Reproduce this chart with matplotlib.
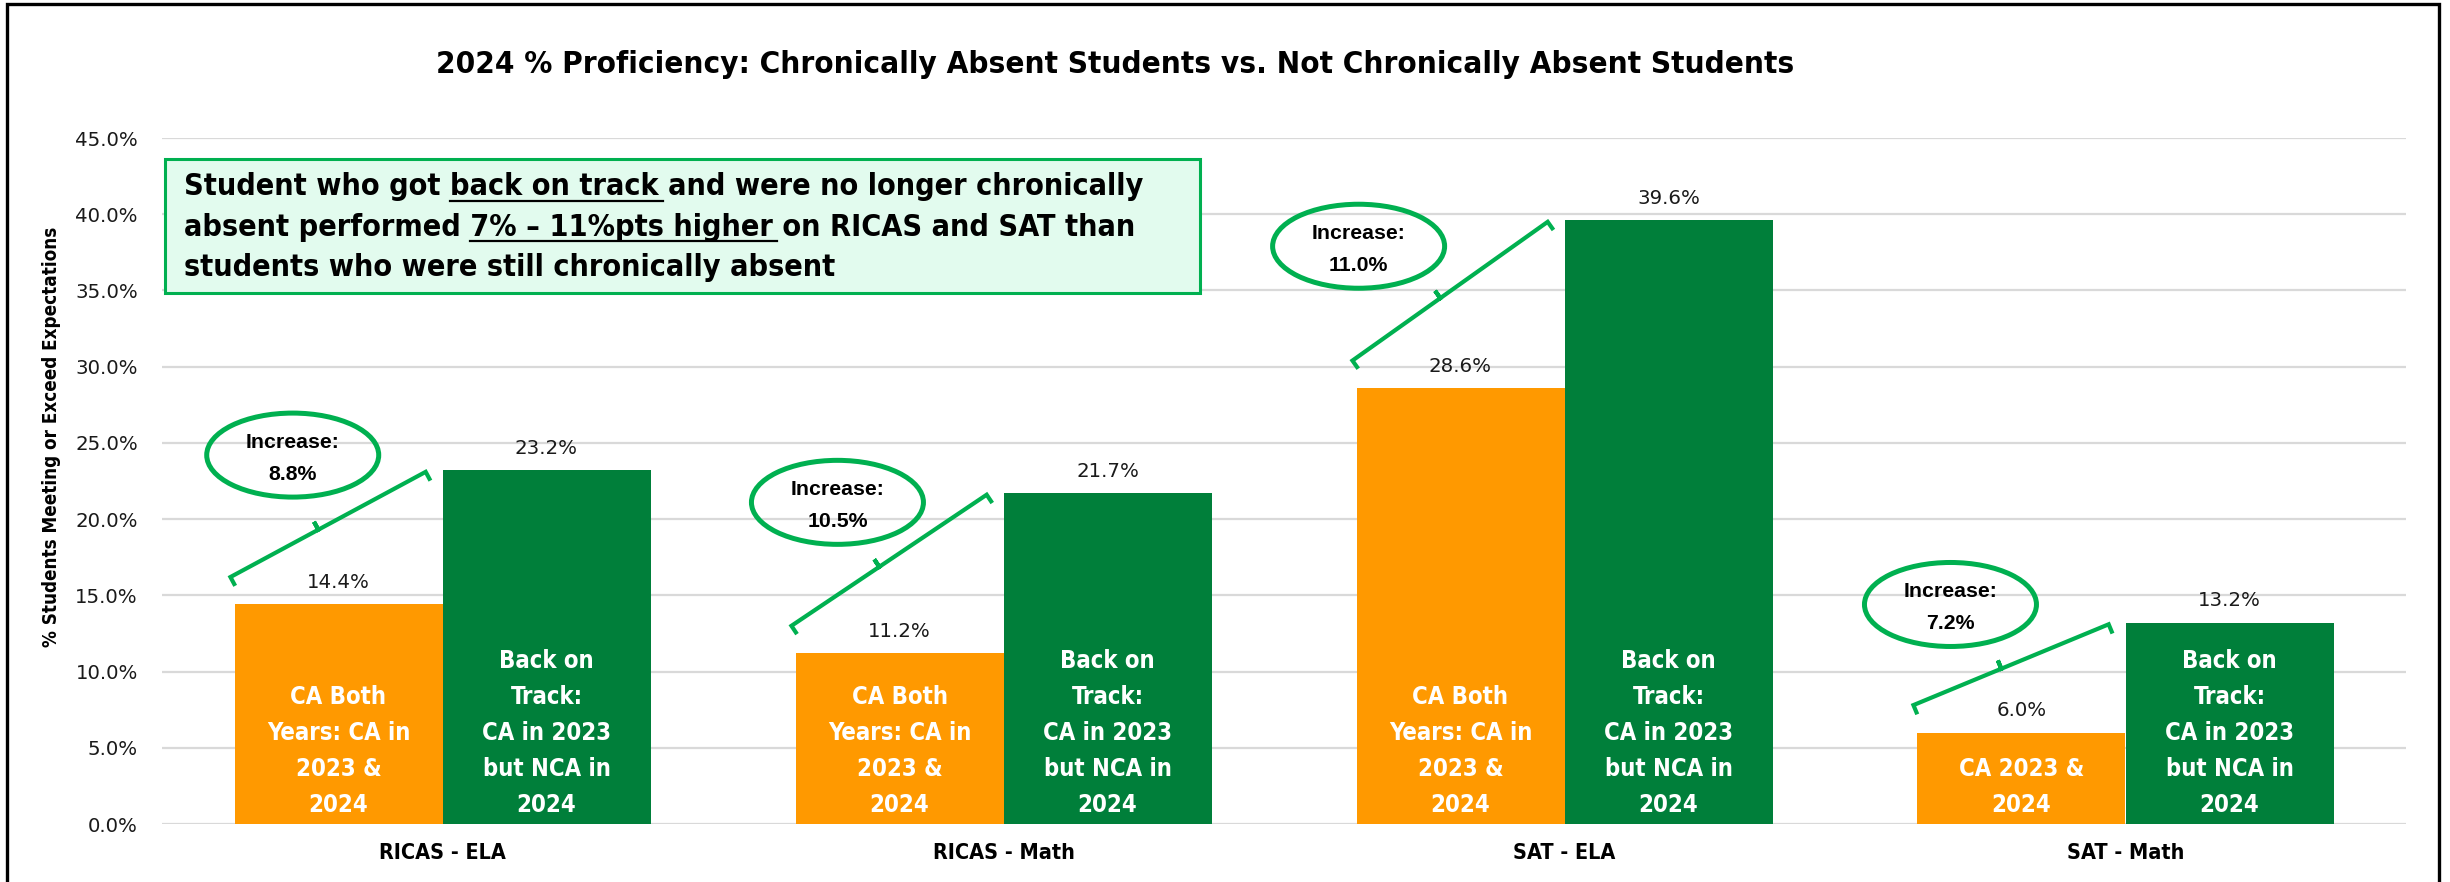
import matplotlib
matplotlib.use("Agg")
import matplotlib.pyplot as plt
from matplotlib import font_manager as fm
from matplotlib.font_manager import FontProperties
from matplotlib.patches import Ellipse, Rectangle
from matplotlib.lines import Line2D
import numpy as np

# ---------------- data ----------------
categories = ["RICAS - ELA", "RICAS - Math", "SAT - ELA", "SAT - Math"]
ca_both_years = [14.4, 11.2, 28.6, 6.0]
back_on_track = [23.2, 21.7, 39.6, 13.2]
ca_bar_text = ["CA Both\nYears: CA in\n2023 &\n2024",
               "CA Both\nYears: CA in\n2023 &\n2024",
               "CA Both\nYears: CA in\n2023 &\n2024",
               "CA 2023 &\n2024"]
bot_bar_text = ["Back on\nTrack:\nCA in 2023\nbut NCA in\n2024"] * 4
y_ticks = [0, 5, 10, 15, 20, 25, 30, 35, 40, 45]
title_text = "2024 % Proficiency: Chronically Absent Students vs. Not Chronically Absent Students"
y_label_text = "% Students Meeting or Exceed Expectations"
callout_lines = [
    ("Student who got ", "back on track", " and were no longer chronically"),
    ("absent performed ", "7% \u2013 11%pts higher", " on RICAS and SAT than"),
    ("students who were still chronically absent", "", ""),
]

# ---------------- layout / style ----------------
W, H = 2450, 882
ORANGE = "#FF9900"
GREEN = "#007F3A"
LGREEN = "#00B050"
GRID = "#D9D9D9"
BOX_FC = "#E2FBEE"
REG = "DejaVu Sans"
BOLD = "Liberation Sans"

# find a condensed bold face if one is installed
cond_path = None
prefs = ["LiberationSansNarrow-Bold", "DejaVuSansCondensed-Bold", "RobotoCondensed-Bold",
         "OpenSans_Condensed-Bold", "OpenSansCondensed-Bold", "NotoSans-CondensedBold",
         "Lato-Bold"]
paths = [f.fname for f in fm.fontManager.ttflist]
for p in prefs:
    hit = [q for q in paths if q.split("/")[-1].startswith(p + ".")]
    if hit:
        cond_path = hit[0]
        break

def nb(size):
    if cond_path:
        return FontProperties(fname=cond_path, size=size)
    return FontProperties(family=BOLD, weight="bold", size=size)

def fx(px):
    return px / W

def fy(py):
    return 1 - py / H

fig = plt.figure(figsize=(W / 100, H / 100), dpi=100)
fig.patch.set_facecolor("white")
renderer = fig.canvas.get_renderer()

def text_width(s, fp):
    t = fig.text(0, 0, s, fontproperties=fp)
    bb = t.get_window_extent(renderer=renderer)
    t.remove()
    return bb.width

def fit(s, target, base=20.0):
    return base * target / text_width(s, nb(base))

ax = fig.add_axes([fx(162), 58 / H, (2406 - 162) / W, 686 / H])
x = np.arange(len(categories))
bw = 208 / 561

ax.bar(x - bw / 2, ca_both_years, bw, color=ORANGE, zorder=2)
ax.bar(x + bw / 2, back_on_track, bw, color=GREEN, zorder=2)

ax.set_xlim(-0.5, len(categories) - 0.5)
ax.set_ylim(0, 45)
ax.set_yticks(y_ticks)
ax.set_yticklabels([f"{v:.1f}%" for v in y_ticks], family=REG, fontsize=14.2, color="#1a1a1a")
ax.yaxis.grid(True, color=GRID, lw=1.6, zorder=0)
ax.set_axisbelow(True)
for s in ax.spines.values():
    s.set_visible(False)
ax.tick_params(axis="y", length=0, pad=17.3)

cat_fs = fit("RICAS - ELA", 127)
ax.set_xticks(x)
ax.set_xticklabels(categories, fontproperties=nb(cat_fs), color="black")
ax.tick_params(axis="x", length=0, pad=20.9)
for lab in ax.get_xticklabels():
    lab.set_va("center")

# value labels
for xs, vals in ((x - bw / 2, ca_both_years), (x + bw / 2, back_on_track)):
    for xi, v in zip(xs, vals):
        ax.annotate(f"{v:.1f}%", (xi, v), xytext=(0, 22), textcoords="offset pixels",
                    ha="center", va="center", family=REG, fontsize=14.2, color="#1a1a1a")

# labels inside bars
inner_fs = fit("CA in 2023", 129)
for xs, texts in ((x - bw / 2, ca_bar_text), (x + bw / 2, bot_bar_text)):
    for xi, txt in zip(xs, texts):
        for k, line in enumerate(reversed(txt.split("\n"))):
            ax.annotate(line, (xi, 0), xytext=(0, 19 + 36 * k), textcoords="offset pixels",
                        ha="center", va="center", color="white", fontproperties=nb(inner_fs),
                        zorder=3)

# brackets + increase badges
badge_dx = [-0.267, -0.296, -0.367, -0.312]
badge_dy = [24.2, 21.1, 37.9, 14.4]
px_per_x = (ax.transData.transform((1, 0)) - ax.transData.transform((0, 0)))[0]
px_per_y = (ax.transData.transform((0, 1)) - ax.transData.transform((0, 0)))[1]
inv = ax.transData.inverted()
for i in range(len(categories)):
    p0 = ax.transData.transform((i - 0.378, ca_both_years[i] + 1.8))
    p1 = ax.transData.transform((i - 0.03, back_on_track[i] - 0.1))
    d = (p1 - p0) / np.linalg.norm(p1 - p0)
    down = np.array([d[1], -d[0]])
    m = p0 + (p1 - p0) * 0.45
    pts = np.array([p0 + down * 10, p0, m, m - down * 9, m, p1, p1 + down * 10])
    dp = inv.transform(pts)
    ax.plot(dp[:, 0], dp[:, 1], color=LGREEN, lw=3.0, solid_joinstyle="miter",
            solid_capstyle="butt", zorder=4, clip_on=False)

    cx, cy = i + badge_dx[i], badge_dy[i]
    ax.add_patch(Ellipse((cx, cy), 172 / px_per_x, 84 / px_per_y, fill=False,
                         ec=LGREEN, lw=3.6, zorder=5, clip_on=False))
    inc = back_on_track[i] - ca_both_years[i]
    ax.annotate("Increase:", (cx, cy), xytext=(0, 13), textcoords="offset pixels",
                ha="center", va="center", family=BOLD, fontweight="bold", fontsize=15.3, zorder=6)
    ax.annotate(f"{inc:.1f}%", (cx, cy), xytext=(0, -19), textcoords="offset pixels",
                ha="center", va="center", family=BOLD, fontweight="bold", fontsize=15.3, zorder=6)

# title
fig.text(fx(1115), fy(73), title_text, ha="center", va="baseline",
         fontproperties=nb(fit(title_text, 1355)), color="black")

# y label
fig.text(fx(52), fy(437), y_label_text, rotation=90, ha="center", va="center",
         fontproperties=nb(fit(y_label_text, 420)), color="black")

# callout box
fig.add_artist(Rectangle((fx(165), fy(293)), (1200 - 165) / W, (293 - 159) / H,
                         transform=fig.transFigure, fc=BOX_FC, ec=LGREEN, lw=2.2, zorder=10))
box_fp = nb(fit("".join(callout_lines[1]), 953))
left = 184
baselines = [195, 235.5, 276]
for (pre, und, post), yb in zip(callout_lines, baselines):
    full = pre + und + post
    fig.text(fx(left), fy(yb), full, ha="left", va="baseline", fontproperties=box_fp,
             color="black", zorder=11)
    if und:
        x0 = left + text_width(pre + und[0], box_fp) - text_width(und[0], box_fp)
        x1 = left + text_width(pre + und, box_fp) + 4
        fig.add_artist(Line2D([fx(x0), fx(x1)], [fy(yb + 5.5)] * 2, transform=fig.transFigure,
                              color="black", lw=1.6, zorder=12))

# outer frame
fig.add_artist(Rectangle((fx(6.5), -0.02), (2439 - 6.5) / W, fy(4.5) + 0.02,
                         transform=fig.transFigure, fill=False, ec="black", lw=2.4, zorder=20))

fig.savefig("out.png", dpi=100)
